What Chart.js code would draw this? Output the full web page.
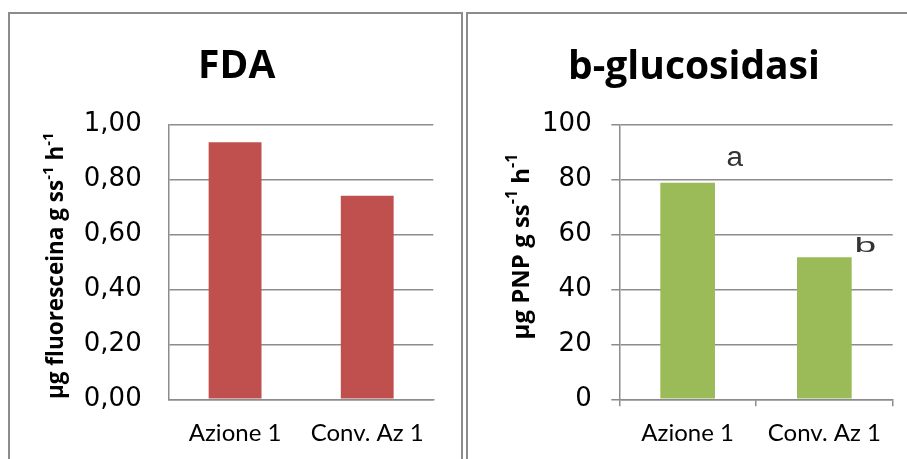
<!DOCTYPE html>
<html>
<head>
<meta charset="utf-8">
<script src="https://cdn.jsdelivr.net/npm/chart.js@4.4.1/dist/chart.umd.min.js"></script>
<style>
  html, body { margin: 0; padding: 0; background: #ffffff; }
  body { width: 907px; height: 459px; position: relative; overflow: hidden; }
  .panel { position: absolute; border: 2px solid #8c8c8c; box-sizing: border-box; }
  #panelLeft { left: 8px; top: 12px; width: 455px; height: 480px; }
  #panelRight { left: 466px; top: 12px; width: 460px; height: 480px; }
  canvas { position: absolute; top: 0; }
  #fdaChart { left: 0; }
  #glucChart { left: 465px; }
</style>
</head>
<body>
<div class="panel" id="panelLeft"></div>
<div class="panel" id="panelRight"></div>
<canvas id="fdaChart" width="465" height="459"></canvas>
<canvas id="glucChart" width="442" height="459"></canvas>
<script>
// Treatments compared in both panels
const categories = ['Azione 1', 'Conv. Az 1'];

// FDA activity (µg fluoresceina g ss-1 h-1)
const fdaValues = [0.935, 0.74];
const fdaTicks = [0, 0.2, 0.4, 0.6, 0.8, 1.0];

// b-glucosidasi activity (µg PNP g ss-1 h-1)
const glucValues = [78.8, 51.7];
const glucTicks = [0, 20, 40, 60, 80, 100];
// Significance letters for the b-glucosidasi bars
const glucLetters = ['a', 'b'];

const GRID = '#8c8c8c';
const TICK_FONT = { family: 'DejaVu Sans', size: 26 };
const CAT_FONT = { family: 'Lato', size: 24 };

// Draws the chart heading and the rotated y-axis caption with superscripts
const captionPlugin = {
  id: 'captions',
  afterDraw(chart, args, opts) {
    const ctx = chart.ctx;
    ctx.save();
    ctx.fillStyle = '#000';
    ctx.font = 'bold 39px "Open Sans"';
    ctx.textAlign = 'center';
    ctx.textBaseline = 'alphabetic';
    ctx.fillText(opts.title, opts.titleX, opts.titleY);

    // rotated axis caption
    const size = opts.axisSize;
    const supSize = Math.round(size * 0.65);
    const parts = opts.axisParts;
    const fontFor = p => 'bold ' + (p.sup ? supSize : size) + 'px "Open Sans"';
    let total = 0;
    parts.forEach(p => { ctx.font = fontFor(p); total += ctx.measureText(p.t).width; });
    ctx.translate(opts.axisX, opts.axisY);
    ctx.rotate(-Math.PI / 2);
    ctx.textAlign = 'left';
    ctx.textBaseline = 'middle';
    let x = -total / 2;
    parts.forEach(p => {
      ctx.font = fontFor(p);
      ctx.fillText(p.t, x, p.sup ? -size * 0.38 : 0);
      x += ctx.measureText(p.t).width;
    });
    ctx.restore();
  }
};

// Places the significance letters next to the top of each bar
const letterPlugin = {
  id: 'barLetters',
  afterDatasetsDraw(chart, args, opts) {
    if (!opts.letters) return;
    const ctx = chart.ctx;
    const meta = chart.getDatasetMeta(0);
    ctx.save();
    ctx.fillStyle = '#333';
    ctx.textAlign = 'center';
    ctx.textBaseline = 'middle';
    meta.data.forEach((bar, i) => {
      const st = opts.styles[i];
      ctx.save();
      ctx.translate(bar.x + st.dx, bar.y + st.dy);
      ctx.scale(st.sx, 1);
      ctx.font = st.size + 'px "Liberation Sans"';
      ctx.fillText(opts.letters[i], 0, 0);
      ctx.restore();
    });
    ctx.restore();
  }
};

function makeChart(id, cfg) {
  return new Chart(document.getElementById(id), {
    type: 'bar',
    data: {
      labels: categories,
      datasets: [{
        data: cfg.values,
        backgroundColor: cfg.color,
        borderWidth: 0,
        categoryPercentage: 1.0,
        barPercentage: 0.4
      }]
    },
    plugins: [captionPlugin, letterPlugin],
    options: {
      responsive: false,
      animation: false,
      devicePixelRatio: 1,
      layout: { padding: { left: 0, right: cfg.padRight, top: cfg.top, bottom: 0 } },
      plugins: {
        legend: { display: false },
        tooltip: { enabled: false },
        title: { display: false },
        captions: cfg.captions,
        barLetters: cfg.letters || {}
      },
      scales: {
        x: {
          afterFit: s => { s.height = cfg.xHeight; },
          grid: {
            display: cfg.xTicks,
            drawOnChartArea: false,
            drawTicks: cfg.xTicks,
            tickLength: 7,
            offset: true,
            color: GRID,
            lineWidth: 1.5
          },
          border: { display: true, color: GRID, width: 1.5 },
          ticks: { color: '#000', font: CAT_FONT, padding: cfg.xPad, maxRotation: 0 }
        },
        y: {
          min: 0,
          max: cfg.tickValues[cfg.tickValues.length - 1],
          afterFit: s => { s.width = cfg.yWidth; },
          afterBuildTicks: s => { s.ticks = cfg.tickValues.map(v => ({ value: v })); },
          grid: {
            color: GRID,
            lineWidth: 1.5,
            drawTicks: cfg.yTicks,
            tickLength: 8
          },
          border: { display: true, color: GRID, width: 1.5 },
          ticks: {
            color: '#000',
            font: TICK_FONT,
            padding: cfg.yPad,
            callback: cfg.format
          }
        }
      }
    }
  });
}

makeChart('fdaChart', {
  values: fdaValues,
  color: '#C0504D',
  tickValues: fdaTicks,
  format: v => Number(v).toFixed(2).replace('.', ','),
  top: 124.3,
  padRight: 31.7,
  yWidth: 169,
  xHeight: 59.7,
  yTicks: false,
  yPad: 27.3,
  xTicks: false,
  xPad: 20,
  captions: {
    title: 'FDA', titleX: 236.7, titleY: 78,
    axisX: 57, axisY: 265.7, axisSize: 22.5,
    axisParts: [{ t: 'µg fluoresceina g ss' }, { t: '-1', sup: true }, { t: ' h' }, { t: '-1', sup: true }]
  }
});

makeChart('glucChart', {
  values: glucValues,
  color: '#9BBB59',
  tickValues: glucTicks,
  format: v => String(v),
  top: 124.5,
  padRight: 14.3,
  yWidth: 154.3,
  xHeight: 59.7,
  yTicks: true,
  yPad: 19.6,
  xTicks: true,
  xPad: 13,
  captions: {
    title: 'b-glucosidasi', titleX: 229, titleY: 79,
    axisX: 57, axisY: 246.5, axisSize: 24,
    axisParts: [{ t: 'µg PNP g ss' }, { t: '-1', sup: true }, { t: ' h' }, { t: '-1', sup: true }]
  },
  letters: {
    letters: glucLetters,
    styles: [
      { dx: 47, dy: -24, size: 27, sx: 1.1 },
      { dx: 41, dy: -11, size: 19.5, sx: 2.0 }
    ]
  }
});
</script>
</body>
</html>
